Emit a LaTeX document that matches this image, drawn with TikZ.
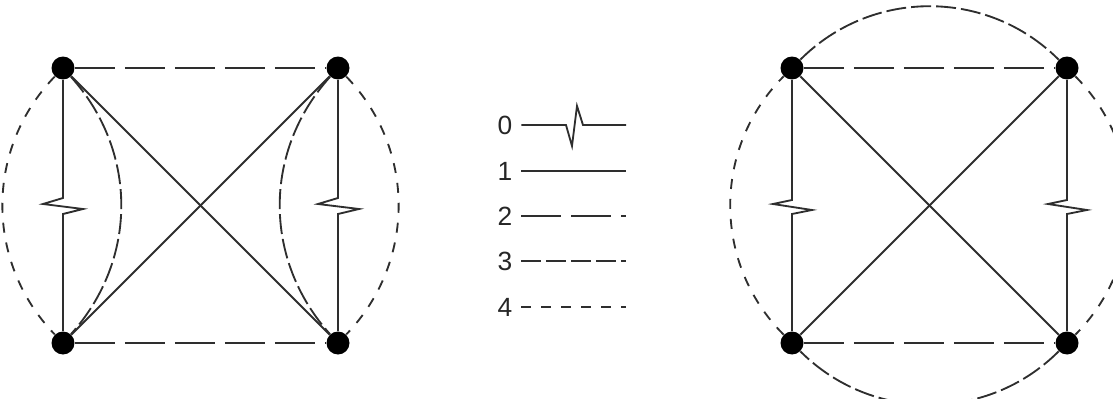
\documentclass[tikz,border=0pt]{standalone}
\usepackage{fontspec}
\setmainfont{Liberation Sans}
\usepackage{tikz}
\usetikzlibrary{positioning, calc}

\begin{document}
\begin{tikzpicture}[
    x=0.02cm, y=-0.02cm,
    vtx/.style={circle, fill=black, inner sep=0pt, minimum size=4.6mm},
    num/.style={inner sep=0pt, inner xsep=5pt, text=black!85,
                font=\fontsize{15}{17}\selectfont},
    ln1/.style={line width=1.05pt, draw=black!82},
    ln2/.style={ln1, dash pattern=on 8mm off 2mm},
    ln3/.style={ln1, dash pattern=on 4mm off 1mm},
    ln4/.style={ln1, dash pattern=on 2mm off 2mm},
]
\useasboundingbox (0,0) rectangle (1113,399);

% --- Left graph ---
\node[vtx] (a1) at (63, 68) {};
\node[vtx] (a2) at (338, 68) {};
\node[vtx] (a3) at (63, 343) {};
\node[vtx] (a4) at (338, 343) {};

\draw[ln2] (a1) -- (a2);
\draw[ln2] (a3) -- (a4);
\draw[ln1] (a1) -- (a4);
\draw[ln1] (a2) -- (a3);
\draw[ln1] (a1) -- ++(0,130) -- ++(-20,6) -- ++(40,5) -- ++(-20,5) -- (a3);
\draw[ln1] (a2) -- ++(0,130) -- ++(-20,6) -- ++(41,5) -- ++(-21,5) -- (a4);
\draw[ln3] (a1) to[bend left=42] (a3);
\draw[ln3] (a2) to[bend right=42] (a4);
\draw[ln4] (a1) to[bend right=44] (a3);
\draw[ln4] (a2) to[bend left=44] (a4);

% --- Legend ---
\node[num] (l0) at (505, 125) {0};
\node[num] (l1) at (505, 171) {1};
\node[num] (l2) at (505, 216) {2};
\node[num] (l3) at (505, 261) {3};
\node[num] (l4) at (505, 307) {4};
\coordinate (e0) at (626, 125);
\coordinate (e1) at (626, 171);
\coordinate (e2) at (626, 216);
\coordinate (e3) at (626, 261);
\coordinate (e4) at (626, 307);

\draw[ln1] (l0) -- (566, 125) -- (572, 146) -- (577, 106) -- (583, 125) -- (e0);
\draw[ln1] (l1) -- (e1);
\draw[ln2] (l2) -- (e2);
\draw[ln3] (l3) -- (e3);
\draw[ln4] (l4) -- (e4);

% --- Right graph ---
\node[vtx] (b1) at (792, 68) {};
\node[vtx] (b2) at (1067, 68) {};
\node[vtx] (b3) at (792, 343) {};
\node[vtx] (b4) at (1067, 343) {};

\draw[ln2] (b1) -- (b2);
\draw[ln2] (b3) -- (b4);
\draw[ln1] (b1) -- (b4);
\draw[ln1] (b2) -- (b3);
\draw[ln1] (b1) -- ++(0,132) -- ++(-19,4) -- ++(39,6) -- ++(-20,4) -- (b3);
\draw[ln1] (b2) -- ++(0,132) -- ++(-19,4) -- ++(39,6) -- ++(-20,4) -- (b4);
\draw[ln3] (b1) to[bend left=45] (b2);
\draw[ln4] (b2) to[bend left=45] (b4);
\draw[ln3] (b4) to[bend left=45] (b3);
\draw[ln4] (b3) to[bend left=45] (b1);
\end{tikzpicture}
\end{document}
